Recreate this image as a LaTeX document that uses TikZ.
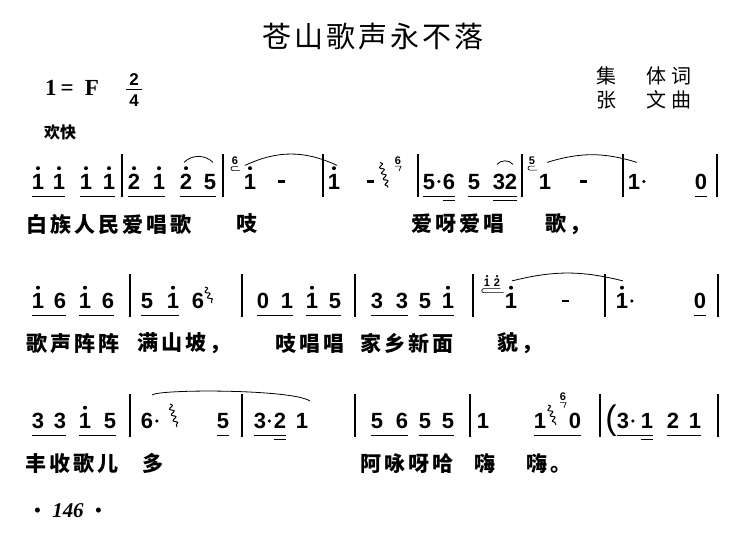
\documentclass[tikz,border=0pt]{standalone}
\usepackage{fontspec}
\setmainfont{Liberation Serif}
\newfontfamily\cjk{Noto Sans CJK SC}
\newfontfamily\lyr{Noto Sans CJK SC}[LetterSpace=14]
\newfontfamily\jp{Liberation Sans}
\usetikzlibrary{positioning,decorations.pathmorphing}

\begin{document}
\begin{tikzpicture}[x=1pt,y=1pt,label distance=3pt,
	note/.style={font=\jp\bfseries\fontsize{22}{22}\selectfont,inner sep=0pt,text height=15.8pt,text depth=0pt},
	grace/.style={font=\jp\bfseries\fontsize{11}{11}\selectfont,inner sep=0pt,text height=7.9pt,text depth=0pt},
	plain/.style={},
	hi/.style={label={[hdot]above:}},
	ghi/.style={label={[hdot,minimum size=2.6pt,yshift=-1.8pt]above:}},
	hdot/.style={circle,fill,inner sep=0pt,minimum size=4pt},
	adot/.style={circle,fill,inner sep=0pt,minimum size=3.6pt},
	hold/.style={fill,inner sep=0pt,minimum width=7pt,minimum height=2.4pt},
	ul/.style={line width=0.9pt,transform canvas={yshift=-6.5pt}},
	uul/.style={line width=0.9pt,transform canvas={yshift=-10.5pt}},
	bar/.style={line width=1.3pt},
	slur/.style={line width=0.8pt},
	hook/.style={line width=0.7pt},
	wig/.style={line width=1pt,decorate,decoration={snake,amplitude=2pt,segment length=6pt}},
	lyric/.style={font=\lyr\bfseries\fontsize{21}{21}\selectfont,anchor=west,inner sep=0pt}]
\useasboundingbox (0,0) rectangle (750,546);

% heading
\node[font=\cjk\fontsize{29}{29}\selectfont\addfontfeatures{LetterSpace=10}] (title) at (373,509) {苍山歌声永不落};
\node[anchor=west,inner sep=0pt,font=\bfseries\fontsize{23}{23}\selectfont] (key) at (45,458) {1\hspace{4pt}=\hspace{11pt}F};
\node[note,font=\jp\bfseries\fontsize{17}{17}\selectfont,text height=12.2pt] (num) at (134,467) {2};
\node[note,font=\jp\bfseries\fontsize{17}{17}\selectfont,text height=12.2pt] (den) at (134,446) {4};
\draw[line width=1.2pt] ([shift={(-3,-4)}]num.south west) -- ([shift={(3,-4)}]num.south east);
\node[anchor=west,inner sep=0pt,font=\cjk\fontsize{20}{20}\selectfont\addfontfeatures{LetterSpace=25}] (words) at (596,470) {集　体词};
\node[anchor=west,inner sep=0pt,font=\cjk\fontsize{20}{20}\selectfont\addfontfeatures{LetterSpace=25}] (music) [below=5pt of words.south west,anchor=north west] {张　文曲};
\node[anchor=west,inner sep=0pt,font=\cjk\bfseries\fontsize{16}{16}\selectfont] (tempo) at (44,414) {欢快};

% row 1
\begin{scope}[yshift=364.5pt]
\foreach \n/\x/\d/\s in {a1/38/1/hi,a2/59/1/hi,a3/86/1/hi,a4/109/1/hi,a5/134/2/hi,a6/159/1/hi,a7/186/2/hi,a8/210/5/plain,
	a9/250/1/hi,a10/334/1/hi,a11/429/5/plain,a12/449/6/plain,a13/474/5/plain,a14/499/3/plain,a15/511/2/plain,
	a16/545/1/plain,a17/634/1/plain,a18/701/0/plain}
	\node[note,\s] (\n) at (\x,0) {\d};
\node[hold]	(h1)	at (281,0)	{};
\node[hold]	(h2)	at (370,0)	{};
\node[hold]	(h3)	at (583,0)	{};
\node[adot]	(d1)	[right=1.5pt of a11]	{};
\node[adot]	(d2)	[right=1.5pt of a17]	{};
\node[grace]	(g1)	at (235,20.5)	{6};
\node[grace]	(g2)	at (398,21)	{6};
\node[grace]	(g3)	at (532,21)	{5};
\foreach \x in {122,223,323,418,522,623,717}
	\draw[bar] (\x,-16) -- (\x,27);
\foreach \p/\q in {a1/a2,a3/a4,a5/a6,a7/a8,a11/a12,a13/a15,a18/a18}
	\draw[ul] (\p.south west) -- (\q.south east);
\draw[uul] (a12.south west) -- (a12.south east);
\draw[uul] (a14.south west) -- (a15.south east);
\draw[slur] ([shift={(-2,11)}]a7.north) to[bend left=45] ([shift={(3,11)}]a8.north);
\draw[slur] ([shift={(-5,8)}]a9.north) to[bend left=25] ([shift={(3,8)}]a10.north);
\draw[slur] ([shift={(-2,9)}]a14.north) to[bend left=50] ([shift={(2,9)}]a15.north);
\draw[slur] ([shift={(2,11)}]a16.north) to[bend left=17] ([shift={(3,11)}]a17.north);
\draw[hook] ([shift={(3,-1.5)}]g1.south) -- ++(-5,0) arc[start angle=90,end angle=270,radius=2] -- ++(7,0);
\draw[hook] ([shift={(3,-1.5)}]g3.south) -- ++(-5,0) arc[start angle=90,end angle=270,radius=2] -- ++(7,0);
\draw[hook] ([shift={(-3,-1.5)}]g2.south) -- ++(6,0) -- ++(-2,-5);
\draw[wig] (380,19) -- (388,-6);
\node[lyric]	(l1)	at (26.5,-42.5)	{白族人民爱唱歌};
\node[lyric]	(l2)	at (236.5,-42.5)	{吱};
\node[lyric]	(l3)	at (411.5,-42.5)	{爱呀爱唱};
\node[lyric]	(l4)	at (545.5,-42.5)	{歌，};
\end{scope}

% row 2
\begin{scope}[yshift=245pt]
\foreach \n/\x/\d/\s in {b1/38/1/hi,b2/60/6/plain,b3/85/1/hi,b4/108/6/plain,b5/147/5/plain,b6/173/1/hi,b7/198/6/plain,
	b8/263/0/plain,b9/287/1/plain,b10/312/1/hi,b11/335/5/plain,b12/377/3/plain,b13/402/3/plain,b14/425/5/plain,
	b15/448/1/hi,b16/511/1/hi,b17/622/1/hi,b18/700/0/plain}
	\node[note,\s] (\n) at (\x,0) {\d};
\node[hold]	(h4)	at (565,0)	{};
\node[adot]	(d3)	[right=1.5pt of b17]	{};
\node[grace,ghi]	(gb1)	at (487,18)	{1};
\node[grace,ghi]	(gb2)	at (497,18)	{2};
\foreach \x in {130,242,355,473,605,718}
	\draw[bar] (\x,-16) -- (\x,27);
\foreach \p/\q in {b1/b2,b3/b4,b5/b6,b8/b9,b10/b11,b12/b13,b14/b15,b18/b18}
	\draw[ul] (\p.south west) -- (\q.south east);
\draw[slur] ([shift={(1,12)}]b16.north) to[bend left=14] ([shift={(1,12)}]b17.north);
\draw[hook] ([yshift=-1.5pt]gb2.south east) -- ([yshift=-1.5pt]gb1.south west) arc[start angle=90,end angle=270,radius=2] -- ++(20,0);
\draw[wig] (205,14) -- (212,-2);
\node[lyric]	(m1)	at (26.5,-42.5)	{歌声阵阵};
\node[lyric]	(m2)	at (137.5,-42.5)	{满山坡，};
\node[lyric]	(m3)	at (275.5,-42.5)	{吱唱唱};
\node[lyric]	(m4)	at (360.5,-42.5)	{家乡新面};
\node[lyric]	(m5)	at (497.5,-42.5)	{貌，};
\end{scope}

% row 3
\begin{scope}[yshift=125pt]
\foreach \n/\x/\d/\s in {c1/38/3/plain,c2/60/3/plain,c3/85/1/hi,c4/110/5/plain,c5/147/6/plain,c6/223/5/plain,
	c7/260/3/plain,c8/280/2/plain,c9/302/1/plain,c10/377/5/plain,c11/402/6/plain,c12/425/5/plain,c13/448/5/plain,
	c14/483/1/plain,c15/540/1/plain,c16/575/0/plain,c17/623/3/plain,c18/647/1/plain,c19/673/2/plain,c20/695/1/plain}
	\node[note,\s] (\n) at (\x,0) {\d};
\node[adot]	(d4)	[right=1.5pt of c5]	{};
\node[adot]	(d5)	[right=1pt of c7]	{};
\node[adot]	(d6)	[right=1.5pt of c17]	{};
\node[grace]	(g6)	at (563,24)	{6};
\node[inner sep=0pt,font=\jp\fontsize{34}{34}\selectfont] (par) at (611,0) {(};
\foreach \x in {130,242,355,470,600,718}
	\draw[bar] (\x,-16) -- (\x,27);
\foreach \p/\q in {c1/c2,c3/c4,c6/c6,c7/c8,c10/c11,c12/c13,c15/c16,c17/c18,c19/c20}
	\draw[ul] (\p.south west) -- (\q.south east);
\draw[uul] (c8.south west) -- (c8.south east);
\draw[uul] (c18.south west) -- (c18.south east);
\draw[slur] ([shift={(5,26)}]c5.center) .. controls ([shift={(12,32)}]c5.center) and ([shift={(-10,32)}]c9.center) .. ([shift={(8,20)}]c9.center);
\draw[hook] ([shift={(-3,-1.5)}]g6.south) -- ++(6,0) -- ++(-2,-5);
\draw[wig] (170,17) -- (177,-6);
\draw[wig] (548,16) -- (556,-4);
\node[lyric]	(n1)	at (25.5,-42.5)	{丰收歌儿};
\node[lyric]	(n2)	at (142.5,-42.5)	{多};
\node[lyric]	(n3)	at (360.5,-42.5)	{阿咏呀哈};
\node[lyric]	(n4)	at (474.5,-42.5)	{嗨};
\node[lyric]	(n5)	at (526.5,-42.5)	{嗨。};
\end{scope}

% page number
\node[font=\fontsize{21}{21}\selectfont] (page) at (68,35) {\textbullet\hspace{11pt}\textbf{\textit{146}}\hspace{11pt}\textbullet};
\end{tikzpicture}
\end{document}
